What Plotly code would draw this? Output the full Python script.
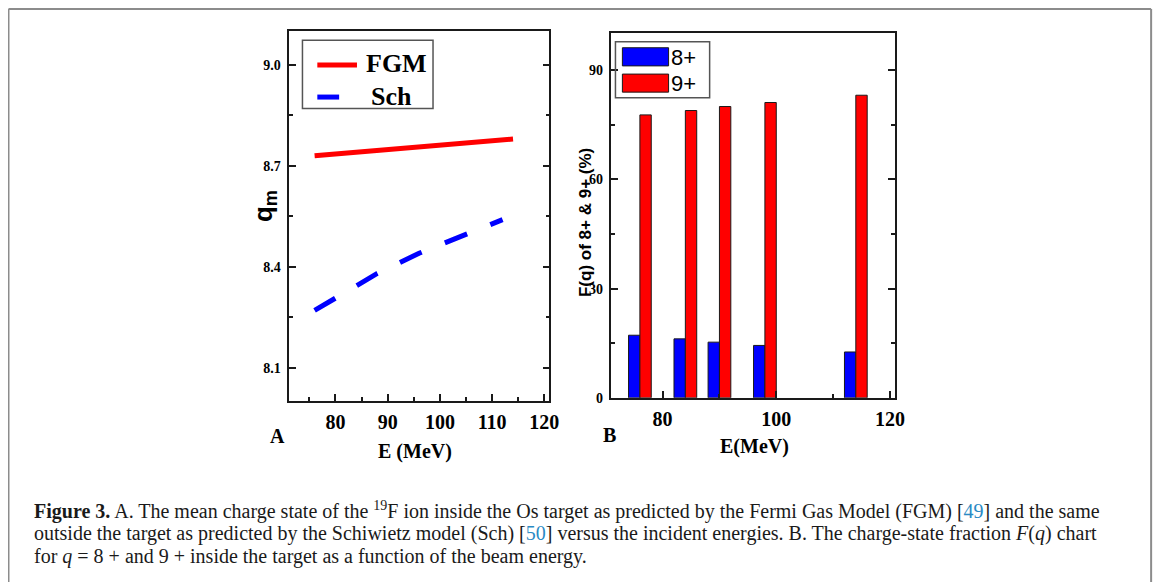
import plotly.graph_objects as go

# ---------------- data ----------------
E_fgm = [76, 114]
q_fgm = [8.73, 8.78]

E_sch = [76, 88, 96, 104, 112]
q_sch = [8.27, 8.38, 8.44, 8.49, 8.54]

E_bar = [76, 84, 90, 98, 114]
frac_8 = [17.2, 16.2, 15.3, 14.4, 12.6]
frac_9 = [77.7, 78.9, 80.0, 81.1, 83.1]

yticks_A = [8.1, 8.4, 8.7, 9.0]
xticks_A = [80, 90, 100, 110, 120]
yticks_B = [0, 30, 60, 90]
xticks_B = [80, 100, 120]

OFF = 8  # page body margin
W, H = 1167, 582
def px(x): return (x - OFF) / W
def py(y): return 1 - (y - OFF) / H

SERIF = "Liberation Serif"
SANS = "Liberation Sans"
AXC = "#1a1a1a"

fig = go.Figure()

fig.add_trace(go.Scatter(x=E_fgm, y=q_fgm, mode="lines", name="FGM",
                         line=dict(color="#ff0000", width=5), xaxis="x", yaxis="y",
                         showlegend=False))
fig.add_trace(go.Scatter(x=E_sch, y=q_sch, mode="lines", name="Sch",
                         line=dict(color="#0000ff", width=5, dash="24px,25px"),
                         xaxis="x", yaxis="y", showlegend=False))

fig.add_trace(go.Bar(x=E_bar, y=frac_8, name="8+", marker=dict(color="#0000ff", line=dict(color="#1a1a1a", width=1)),
                     xaxis="x2", yaxis="y2", showlegend=False))
fig.add_trace(go.Bar(x=E_bar, y=frac_9, name="9+", marker=dict(color="#ff0000", line=dict(color="#1a1a1a", width=1)),
                     xaxis="x2", yaxis="y2", showlegend=False))

common_axis = dict(showline=True, linecolor=AXC, linewidth=1.5, showgrid=False, zeroline=False,
                   ticks="inside", ticklen=7, tickwidth=1.5, tickcolor=AXC)

fig.update_layout(
    width=W, height=H, margin=dict(l=0, r=0, t=0, b=0),
    paper_bgcolor="white", plot_bgcolor="white",
    barmode="group", bargap=1/3, bargroupgap=0,
    xaxis=dict(domain=[px(291.7), px(554)], range=[71.15, 120.95], anchor="y",
               tickvals=xticks_A, mirror=True,
               minor=dict(dtick=5, tick0=0, ticks="inside", ticklen=4, tickcolor=AXC, tickwidth=1.5),
               tickfont=dict(family=SERIF, size=20, color="black", weight="bold"),
               ticklabelstandoff=2, **common_axis),
    yaxis=dict(domain=[py(406.7), py(31.7)], range=[8.0, 9.1], anchor="x",
               tickvals=yticks_A, tickformat=".1f", mirror="ticks",
               minor=dict(tickvals=[8.25, 8.55, 8.85], ticks="inside", ticklen=4, tickcolor=AXC, tickwidth=1.5),
               tickfont=dict(family=SERIF, size=14, color="black", weight="bold"),
               ticklabelstandoff=4, **common_axis),
    xaxis2=dict(domain=[px(616.7), px(902.7)], range=[71, 120.9], anchor="y2",
                tickvals=xticks_B, mirror=True,
                minor=dict(dtick=10, tick0=0, ticks="inside", ticklen=4, tickcolor=AXC, tickwidth=1.5),
                tickfont=dict(family=SERIF, size=20, color="black", weight="bold"),
                ticklabelstandoff=2, **common_axis),
    yaxis2=dict(domain=[py(403.3), py(33.3)], range=[0, 100.2], anchor="x2",
                tickvals=yticks_B, mirror="ticks",
                minor=dict(tickvals=[15, 45, 75], ticks="inside", ticklen=4, tickcolor=AXC, tickwidth=1.5),
                tickfont=dict(family=SERIF, size=14, color="black", weight="bold"),
                ticklabelstandoff=4, **common_axis),
)

ann = []
def add_text(text, x, y, font, xanchor="center", angle=0):
    ann.append(dict(text=text, x=px(x), y=py(y), xref="paper", yref="paper",
                    xanchor=xanchor, yanchor="middle", textangle=angle,
                    showarrow=False, font=font))

# axis titles and panel letters
add_text("q<sub>m</sub>", 266, 209, dict(family=SANS, size=26, color="black", weight="bold"), angle=-90)
add_text("E (MeV)", 419, 458, dict(family=SERIF, size=20, color="black", weight="bold"))
add_text("A", 280, 442, dict(family=SERIF, size=20, color="black", weight="bold"))
add_text("F(q) of 8+ &amp; 9+ (%)", 590, 226, dict(family=SANS, size=17, color="black", weight="bold"), angle=-90)
add_text("E(MeV)", 761, 453, dict(family=SERIF, size=20, color="black", weight="bold"))
add_text("B", 615, 441, dict(family=SERIF, size=20, color="black", weight="bold"))

# legend A texts
add_text("FGM", 367, 64, dict(family=SERIF, size=26, color="black", weight="bold"), xanchor="left")
add_text("Sch", 372, 98, dict(family=SERIF, size=26, color="black", weight="bold"), xanchor="left")
# legend B texts
add_text("8+", 675, 58, dict(family=SANS, size=22, color="black"), xanchor="left")
add_text("9+", 675, 85, dict(family=SANS, size=22, color="black"), xanchor="left")

# caption
cap_font = dict(family=SERIF, size=20, color="#1a1a1a")
blue = "#2a8ac4"
cap1 = ("<b>Figure 3.</b> A. The mean charge state of the <sup>19</sup>F ion inside the Os target as predicted by "
        "the Fermi Gas Model (FGM) [<span style='color:%s'>49</span>] and the same" % blue)
cap2 = ("outside the target as predicted by the Schiwietz model (Sch) [<span style='color:%s'>50</span>] versus "
        "the incident energies. B. The charge-state fraction <i>F</i>(<i>q</i>) chart" % blue)
cap3 = "for <i>q</i> = 8 + and 9 + inside the target as a function of the beam energy."
for t, yc in [(cap1, 518), (cap2, 541), (cap3, 564)]:
    add_text(t, 32, yc, cap_font, xanchor="left")

fig.update_layout(annotations=ann)

shapes = []
# outer frame (left, top, right; it runs past the bottom of the picture)
frame = dict(color="#8c8c8c", width=2)
shapes.append(dict(type="line", xref="paper", yref="paper", x0=px(8.5), x1=px(8.5), y0=0, y1=py(9), line=frame))
shapes.append(dict(type="line", xref="paper", yref="paper", x0=px(8.5), x1=px(1161), y0=py(9), y1=py(9), line=frame))
shapes.append(dict(type="line", xref="paper", yref="paper", x0=px(1161), x1=px(1161), y0=0, y1=py(9), line=frame))
# legend A box and samples
shapes.append(dict(type="rect", xref="paper", yref="paper", x0=px(305), x1=px(436.7), y0=py(110), y1=py(40.7),
                   line=dict(color="#555555", width=1.5)))
shapes.append(dict(type="line", xref="paper", yref="paper", x0=px(320), x1=px(360), y0=py(65.7), y1=py(65.7),
                   line=dict(color="#ff0000", width=5)))
shapes.append(dict(type="line", xref="paper", yref="paper", x0=px(320), x1=px(342), y0=py(98.3), y1=py(98.3),
                   line=dict(color="#0000ff", width=5)))
# legend B box and swatches
shapes.append(dict(type="rect", xref="paper", yref="paper", x0=px(620.7), x1=px(715.7), y0=py(99), y1=py(42.3),
                   line=dict(color="#555555", width=1.5)))
shapes.append(dict(type="rect", xref="paper", yref="paper", x0=px(627.7), x1=px(674.3), y0=py(66.7), y1=py(48.3),
                   line=dict(color="#1a1a1a", width=1), fillcolor="#0000ff"))
shapes.append(dict(type="rect", xref="paper", yref="paper", x0=px(627.7), x1=px(674.3), y0=py(93.3), y1=py(75),
                   line=dict(color="#1a1a1a", width=1), fillcolor="#ff0000"))
fig.update_layout(shapes=shapes)

fig.write_html("out.html")
